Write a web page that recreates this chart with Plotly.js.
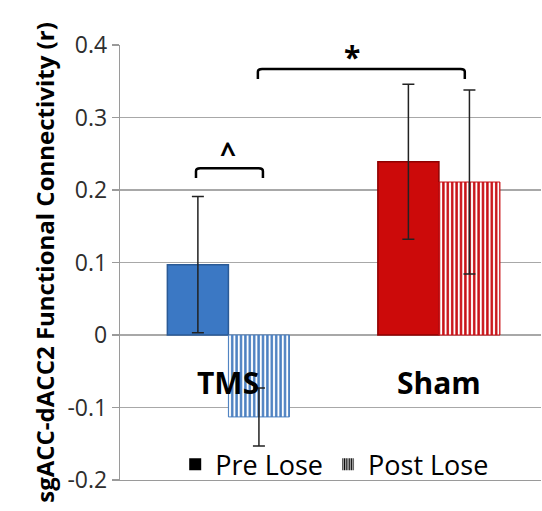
<!DOCTYPE html>
<html>
<head>
<meta charset="utf-8">
<script src="https://cdn.plot.ly/plotly-3.0.1.min.js"></script>
<style>html,body{margin:0;padding:0;background:#fff;}#chart{width:542px;height:511px;}</style>
</head>
<body>
<div id="chart"></div>
<script>
// ---- data ----
const categories = ['TMS', 'Sham'];
const preLose = [0.097, 0.239];
const preLoseErr = [0.094, 0.107];
const postLose = [-0.113, 0.211];
const postLoseErr = [0.040, 0.127];
const seriesNames = ['Pre Lose', 'Post Lose'];
const yTickVals = [-0.2, -0.1, 0, 0.1, 0.2, 0.3, 0.4];
const yTickText = ['-0.2', '-0.1', '0', '0.1', '0.2', '0.3', '0.4'];
const yTitle = 'sgACC-dACC2 Functional Connectivity (r)';
const sigMarks = ['^', '*'];

const preColors = ['#3b78c4', '#cc0a0a'];
const preLines = ['#2a5a96', '#8e0000'];
const postColors = ['#4a7fc0', '#c80f14'];

const errStyle = {type: 'data', visible: true, color: '#222', thickness: 1.5, width: 6};

const traces = [
  {
    type: 'bar', name: seriesNames[0], x: categories, y: preLose, offsetgroup: 'pre',
    showlegend: false,
    marker: {color: preColors, line: {color: preLines, width: 1.5}},
    error_y: Object.assign({array: preLoseErr}, errStyle)
  },
  {
    type: 'bar', name: seriesNames[1], x: categories, y: postLose, offsetgroup: 'post',
    showlegend: false,
    marker: {color: '#ffffff', line: {color: postColors, width: 1},
      pattern: {shape: '|', fgcolor: postColors, bgcolor: '#ffffff', size: 4.4, solidity: 0.55, fillmode: 'replace'}},
    error_y: Object.assign({array: postLoseErr}, errStyle)
  },
  // legend entries (black icons like the reference)
  {
    type: 'bar', name: seriesNames[0], x: [categories[0]], y: [null], offsetgroup: 'pre',
    marker: {color: '#000000'}
  },
  {
    type: 'bar', name: seriesNames[1], x: [categories[0]], y: [null], offsetgroup: 'post',
    marker: {color: '#ffffff', pattern: {shape: '|', fgcolor: '#000000', bgcolor: '#ffffff', size: 3, solidity: 0.6}}
  }
];

function bracket(x0, x1, yTop, yEnd, r) {
  return 'M ' + x0 + ',' + yEnd + ' L ' + x0 + ',' + (yTop - 0.004) +
    ' Q ' + x0 + ',' + yTop + ' ' + (x0 + r) + ',' + yTop +
    ' L ' + (x1 - r) + ',' + yTop +
    ' Q ' + x1 + ',' + yTop + ' ' + x1 + ',' + (yTop - 0.004) +
    ' L ' + x1 + ',' + yEnd;
}

const layout = {
  width: 542, height: 511,
  margin: {l: 120, r: 1, t: 45, b: 31},
  paper_bgcolor: '#ffffff', plot_bgcolor: '#ffffff',
  barmode: 'group', bargap: 0.42, bargroupgap: 0,
  font: {family: 'Open Sans, sans-serif', color: '#000'},
  xaxis: {
    type: 'category', range: [-0.515, 1.485], showticklabels: false, ticks: '',
    showgrid: false, zeroline: false, showline: true, linecolor: '#9a9a9a', linewidth: 1.2
  },
  yaxis: {
    range: [-0.2, 0.4], tickvals: yTickVals, ticktext: yTickText,
    ticks: 'outside', ticklen: 7, tickcolor: '#9a9a9a', tickwidth: 1.2,
    tickfont: {size: 23, color: '#2e2e2e', family: 'Open Sans, sans-serif'},
    showgrid: true, gridcolor: '#a8a8a8', gridwidth: 1.2,
    zeroline: false, showline: true, linecolor: '#9a9a9a', linewidth: 1.2,
    title: {text: '<b>' + yTitle + '</b>', font: {size: 24, color: '#000', family: 'Open Sans, sans-serif'}, standoff: 6}
  },
  legend: {
    orientation: 'h', x: 0.51, xanchor: 'center', y: 0.035, yanchor: 'middle',
    bgcolor: 'rgba(0,0,0,0)', font: {size: 27, color: '#000', family: 'Open Sans, sans-serif'},
    itemwidth: 30, traceorder: 'normal'
  },
  shapes: [
    {type: 'path', xref: 'x', yref: 'y', path: bracket(-0.154, 0.164, 0.230, 0.2166, 0.02), line: {color: '#000', width: 2.5}},
    {type: 'path', xref: 'x', yref: 'y', path: bracket(0.140, 1.123, 0.367, 0.353, 0.02), line: {color: '#000', width: 2.5}}
  ],
  annotations: [
    {xref: 'x', yref: 'y', x: categories[0], y: -0.066, text: '<b>' + categories[0] + '</b>', showarrow: false, font: {size: 30, color: '#000'}},
    {xref: 'x', yref: 'y', x: categories[1], y: -0.066, text: '<b>' + categories[1] + '</b>', showarrow: false, font: {size: 30, color: '#000'}},
    {xref: 'x', yref: 'y', x: 0.0, y: 0.252, text: '<b>' + sigMarks[0] + '</b>', showarrow: false, font: {size: 28, color: '#000'}},
    {xref: 'x', yref: 'y', x: 0.587, y: 0.384, text: '<b>' + sigMarks[1] + '</b>', showarrow: false, font: {size: 30, color: '#000'}}
  ]
};

Plotly.newPlot('chart', traces, layout, {staticPlot: true, displayModeBar: false});
</script>
</body>
</html>
